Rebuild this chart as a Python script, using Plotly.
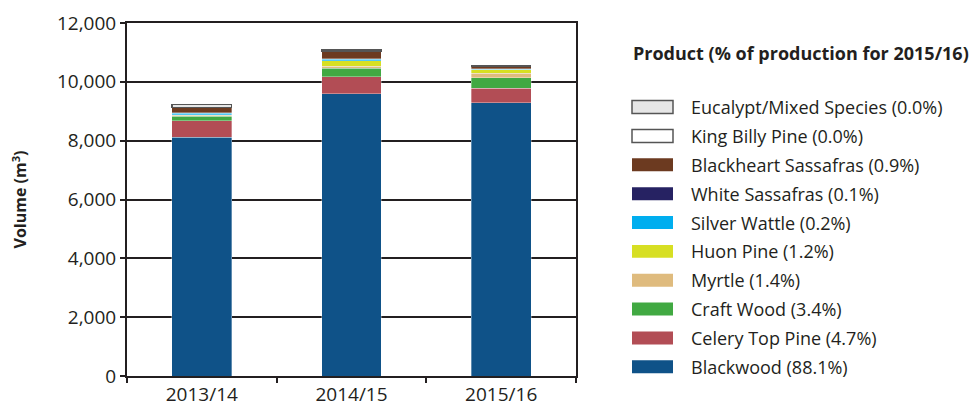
import plotly.graph_objects as go

# ---------------- data ----------------
years = ["2013/14", "2014/15", "2015/16"]

species = ["Blackwood", "Celery Top Pine", "Craft Wood", "Myrtle", "Huon Pine",
           "Silver Wattle", "White Sassafras", "Blackheart Sassafras",
           "King Billy Pine", "Eucalypt/Mixed Species"]
share_2015_16 = ["88.1%", "4.7%", "3.4%", "1.4%", "1.2%", "0.2%", "0.1%", "0.9%", "0.0%", "0.0%"]

blackwood = [8110, 9600, 9286]
celery_top_pine = [570, 565, 495]
craft_wood = [150, 290, 358]
myrtle = [30, 70, 148]
huon_pine = [20, 200, 126]
silver_wattle = [60, 45, 21]
white_sassafras = [15, 20, 11]
blackheart_sassafras = [170, 250, 95]
king_billy_pine = [10, 30, 0]
eucalypt_mixed = [100, 20, 0]

series = [blackwood, celery_top_pine, craft_wood, myrtle, huon_pine, silver_wattle,
          white_sassafras, blackheart_sassafras, king_billy_pine, eucalypt_mixed]

colors = ["#0F5288", "#B24D55", "#41A942", "#DFBB7E", "#D7DF23",
          "#00AEEF", "#262262", "#6C3A20", "#FFFFFF", "#E6E6E6"]
outlined = [False, False, False, False, False, False, False, False, True, True]

y_ticks = [0, 2000, 4000, 6000, 8000, 10000, 12000]

# ---------------- layout constants (pixels) ----------------
W, H = 973, 407
PL, PR, PT, PB = 127, 576, 22.5, 376
FONT = "Open Sans"
INK = "#231F20"


def px(x):
    return (x - PL) / (PR - PL)


def py(y):
    return (PB - y) / (PB - PT)


fig = go.Figure()
for name, vals, col, out in zip(species, series, colors, outlined):
    fig.add_trace(go.Bar(
        x=years, y=vals, name=name, showlegend=False,
        marker=dict(color=col,
                    line=dict(color="#555555" if out else "rgba(255,255,255,0.55)",
                              width=1.2 if out else 0.6)),
    ))

# manual legend (top entry = last series)
row0, step = 106.7, 28.9
for i, idx in enumerate(reversed(range(len(species)))):
    cy = row0 + i * step
    fig.add_shape(type="rect", xref="paper", yref="paper",
                  x0=px(632), x1=px(673), y0=py(cy + 6.5), y1=py(cy - 6.5),
                  fillcolor=colors[idx],
                  line=dict(color="#555555", width=1.5) if outlined[idx] else dict(width=0))
    fig.add_annotation(xref="paper", yref="paper", x=px(689), y=py(cy),
                       xanchor="left", yanchor="middle", showarrow=False,
                       text=f"{species[idx]} ({share_2015_16[idx]})",
                       font=dict(family=FONT, size=18, color=INK))

fig.add_annotation(xref="paper", yref="paper", x=px(631), y=py(53),
                   xanchor="left", yanchor="middle", showarrow=False,
                   text="<b>Product (% of production for 2015/16)</b>",
                   font=dict(family=FONT, size=18, color=INK))

fig.update_layout(
    width=W, height=H,
    margin=dict(l=PL, r=W - PR, t=PT, b=H - PB, autoexpand=False),
    barmode="stack", bargap=0.6,
    plot_bgcolor="white", paper_bgcolor="white",
    font=dict(family=FONT, size=19, color=INK),
)
fig.update_xaxes(
    automargin=False,
    showline=True, linecolor=INK, linewidth=2, mirror=True,
    ticks="outside", tickson="boundaries", ticklen=5, tickcolor=INK, tickwidth=1.5,
    tickfont=dict(size=19),
)
fig.update_yaxes(
    automargin=False,
    range=[0, 12000], tickvals=y_ticks, tickformat=",",
    showgrid=True, gridcolor=INK, gridwidth=1.5,
    showline=True, linecolor=INK, linewidth=2, mirror=True,
    ticks="outside", ticklen=5, tickcolor=INK, tickwidth=1.5,
    tickfont=dict(size=19),
    title=dict(text="<b>Volume (m<sup>3</sup>)</b>", font=dict(size=16), standoff=26),
)

fig.write_html("out.html")
